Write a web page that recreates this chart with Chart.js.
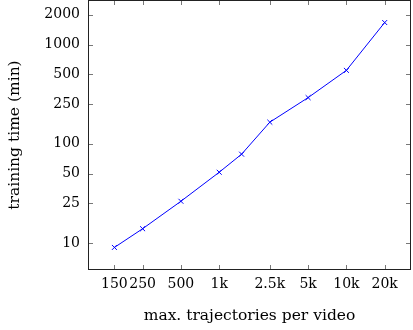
<!DOCTYPE html>
<html>
<head>
<meta charset="utf-8">
<script src="https://cdn.jsdelivr.net/npm/chart.js@4/dist/chart.umd.min.js"></script>
<style>
html,body{margin:0;padding:0;background:#fff;}
#wrap{width:413px;height:330px;}
</style>
</head>
<body>
<div id="wrap"><canvas id="c" width="413" height="330"></canvas></div>
<script>
const trajectories = [150, 250, 500, 1000, 1500, 2500, 5000, 10000, 20000];
const trainingMinutes = [9.0, 13.9, 26.3, 51.6, 78.5, 165, 292, 550, 1670];
const xTickValues = [150, 250, 500, 1000, 2500, 5000, 10000, 20000];
const xTickLabels = ["150", "250", "500", "1k", "2.5k", "5k", "10k", "20k"];
const yTickValues = [10, 25, 50, 100, 250, 500, 1000, 2000];
const yTickLabels = ["10", "25", "50", "100", "250", "500", "1000", "2000"];

const FONT = "'DejaVu Serif', serif";

const boxPlugin = {
  id: 'boxTicks',
  afterDraw(chart) {
    const ctx = chart.ctx;
    const a = chart.chartArea;
    const xs = chart.scales.x, ys = chart.scales.y;
    const L = 5;
    ctx.save();
    ctx.strokeStyle = '#555';
    ctx.lineWidth = 0.8;
    ctx.beginPath();
    xTickValues.forEach(v => {
      const px = Math.round(xs.getPixelForValue(v)) + 0.5;
      ctx.moveTo(px, a.bottom); ctx.lineTo(px, a.bottom - L);
      ctx.moveTo(px, a.top); ctx.lineTo(px, a.top + L);
    });
    yTickValues.forEach(v => {
      const py = Math.round(ys.getPixelForValue(v)) + 0.5;
      ctx.moveTo(a.left, py); ctx.lineTo(a.left + L, py);
      ctx.moveTo(a.right, py); ctx.lineTo(a.right - L, py);
    });
    ctx.stroke();
    ctx.strokeStyle = '#222';
    ctx.lineWidth = 1;
    ctx.strokeRect(Math.round(a.left) + 0.5, Math.round(a.top) + 0.5,
                   Math.round(a.right - a.left) - 1, Math.round(a.bottom - a.top) - 1);
    ctx.restore();
  }
};

function zeroPad(s) { s.paddingTop = 0; s.paddingBottom = 0; s.paddingLeft = 0; s.paddingRight = 0; }

new Chart(document.getElementById('c'), {
  type: 'line',
  data: {
    datasets: [{
      data: trajectories.map((x, i) => ({ x: x, y: trainingMinutes[i] })),
      borderColor: '#0000ff',
      backgroundColor: '#0000ff',
      borderWidth: 1,
      pointStyle: 'crossRot',
      pointRadius: 3.5,
      pointBorderWidth: 1,
      pointBorderColor: '#0000ff',
      tension: 0,
      fill: false
    }]
  },
  options: {
    responsive: false,
    animation: false,
    devicePixelRatio: 1,
    layout: { autoPadding: false, padding: { top: 0, right: 2, bottom: 0, left: 0 } },
    plugins: { legend: { display: false }, tooltip: { enabled: false } },
    scales: {
      x: {
        type: 'logarithmic',
        min: 93, max: 32200,
        afterBuildTicks: s => { s.ticks = xTickValues.map(v => ({ value: v })); },
        afterFit: s => { s.height = 60; zeroPad(s); },
        grid: { display: false, drawTicks: false },
        border: { display: false },
        ticks: {
          autoSkip: false, maxRotation: 0, padding: 6, color: '#000',
          font: { family: FONT, size: 14 },
          callback: (v, i) => xTickLabels[i]
        },
        title: {
          display: true, text: 'max. trajectories per video', color: '#000',
          font: { family: FONT, size: 15.5 }, padding: { top: 0, bottom: 5 }
        }
      },
      y: {
        type: 'logarithmic',
        min: 5.33, max: 2818,
        afterBuildTicks: s => { s.ticks = yTickValues.map(v => ({ value: v })); },
        afterFit: s => { s.width = 88; zeroPad(s); },
        grid: { display: false, drawTicks: false },
        border: { display: false },
        ticks: {
          autoSkip: false, padding: 8, color: '#000',
          font: { family: FONT, size: 14 },
          callback: (v, i) => yTickLabels[i]
        },
        title: {
          display: true, text: 'training time (min)', color: '#000',
          font: { family: FONT, size: 15.5 }, padding: { top: 6, bottom: 0 }
        }
      }
    }
  },
  plugins: [boxPlugin]
});
</script>
</body>
</html>
